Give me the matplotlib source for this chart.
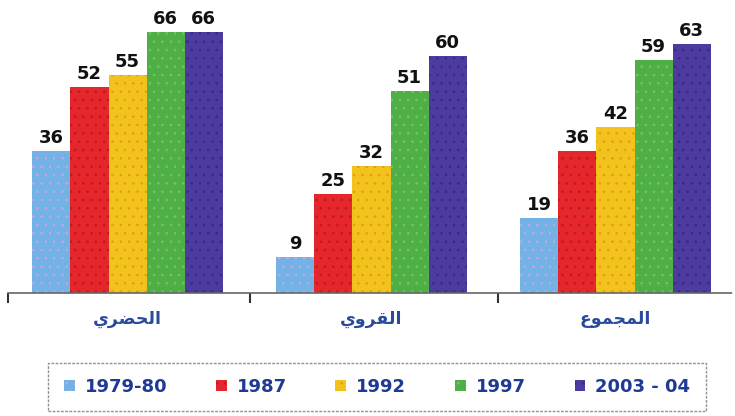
import numpy as np
import matplotlib
matplotlib.use('Agg')
import matplotlib.pyplot as plt

# data
categories = ['الحضري', 'القروي', 'المجموع']
series = ['1979-80', '1987', '1992', '1997', '2003 - 04']
values = [
    [36, 9, 19],    # 1979-80
    [52, 25, 36],   # 1987
    [55, 32, 42],   # 1992
    [66, 51, 59],   # 1997
    [66, 60, 63],   # 2003 - 04
]
colors = ['#72b2e6', '#e5262b', '#f2c31c', '#4eaf47', '#4d3b9f']
dots = ['#c9a6d8', '#b81a22', '#e79a18', '#7cc35f', '#3a2a7c']

# minimal Arabic shaping (presentation forms, visual order)
FORMS = {
    'ا': (0xFE8D, 0xFE8E, None, None),
    'ل': (0xFEDD, 0xFEDE, 0xFEDF, 0xFEE0),
    'ح': (0xFEA1, 0xFEA2, 0xFEA3, 0xFEA4),
    'ض': (0xFEBD, 0xFEBE, 0xFEBF, 0xFEC0),
    'ر': (0xFEAD, 0xFEAE, None, None),
    'ي': (0xFEF1, 0xFEF2, 0xFEF3, 0xFEF4),
    'ق': (0xFED5, 0xFED6, 0xFED7, 0xFED8),
    'و': (0xFEED, 0xFEEE, None, None),
    'م': (0xFEE1, 0xFEE2, 0xFEE3, 0xFEE4),
    'ج': (0xFE9D, 0xFE9E, 0xFE9F, 0xFEA0),
    'ع': (0xFEC9, 0xFECA, 0xFECB, 0xFECC),
}


def shape(word):
    out = []
    for i, ch in enumerate(word):
        f = FORMS[ch]
        prev_j = i > 0 and FORMS[word[i - 1]][2] is not None
        next_j = i < len(word) - 1 and f[2] is not None
        if prev_j and next_j:
            code = f[3]
        elif prev_j:
            code = f[1]
        elif next_j:
            code = f[2]
        else:
            code = f[0]
        out.append(chr(code))
    return ''.join(reversed(out))


plt.rcParams['hatch.linewidth'] = 0.6

fig = plt.figure(figsize=(7.35, 4.16), dpi=100)
ax = fig.add_axes([8 / 735, 123 / 416, 724.6 / 735, 277 / 416])

x = np.arange(len(categories))
w = 0.156
bars = []
for i, (name, vals) in enumerate(zip(series, values)):
    b = ax.bar(x + (i - 2) * w, vals, w, color=colors[i], edgecolor=dots[i],
               linewidth=0, hatch='..', label=name)
    bars.append(b)
    for rect, v in zip(b, vals):
        ax.text(rect.get_x() + rect.get_width() / 2, v + 1.0, str(v),
                ha='center', va='bottom', fontsize=13, fontweight='bold',
                color='#111111')

ax.set_xlim(-0.49, 2.48)
ax.set_ylim(0, 70)
for s in ['top', 'right', 'left']:
    ax.spines[s].set_visible(False)
ax.spines['bottom'].set_color('#666666')
ax.spines['bottom'].set_linestyle((0, (2, 1)))
ax.spines['bottom'].set_linewidth(1.2)
ax.set_yticks([])
ax.set_xticks([-0.49, 0.5, 1.52])
ax.set_xticklabels([])
ax.tick_params(axis='x', direction='out', length=7, width=1.5, color='#333333')

for xi, cat in zip(x, categories):
    ax.text(xi, -6.5, shape(cat), ha='center', va='center', fontsize=12.5,
            fontweight='bold', color='#2a4a9c')

leg = fig.legend(handles=bars, labels=series, ncol=5,
                 loc='center', bbox_to_anchor=(377 / 735, 1 - 387 / 416),
                 frameon=True, fancybox=False,
                 prop={'size': 13, 'weight': 'bold'},
                 handlelength=0.6, handleheight=0.6, handletextpad=0.55,
                 columnspacing=2.7, borderpad=0.85, labelcolor='#1e3a94')
fr = leg.get_frame()
fr.set_edgecolor('#777777')
fr.set_linestyle((0, (2, 1)))
fr.set_linewidth(1.0)

fig.savefig('out.png', dpi=100)
